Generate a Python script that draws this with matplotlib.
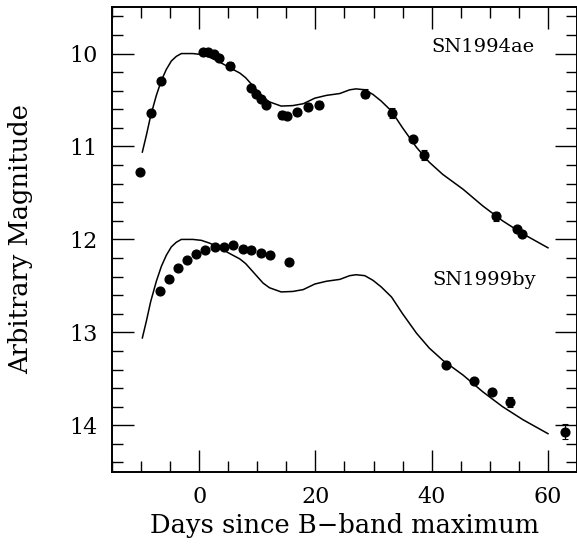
import numpy as np
import matplotlib
matplotlib.use("Agg")
import matplotlib.pyplot as plt
from matplotlib.ticker import MultipleLocator

plt.rcParams['font.family'] = ['DejaVu Serif']

# SN1994ae photometry
t_94 = [-10.1, -8.3, -6.6, 0.7, 1.6, 2.5, 3.4, 5.3, 8.9, 9.7, 10.6, 11.5,
        14.2, 15.1, 16.9, 18.8, 20.6, 28.6, 33.1, 36.8, 38.6, 51.0, 54.7, 55.5]
m_94 = [11.27, 10.64, 10.29, 9.98, 9.98, 10.01, 10.05, 10.13, 10.37, 10.44, 10.49, 10.55,
        10.66, 10.67, 10.63, 10.57, 10.55, 10.43, 10.64, 10.92, 11.09, 11.75, 11.89, 11.94]
e_94 = [0.02, 0.02, 0.02, 0.02, 0.02, 0.02, 0.02, 0.04, 0.02, 0.03, 0.02, 0.02,
        0.04, 0.02, 0.03, 0.04, 0.04, 0.05, 0.05, 0.03, 0.05, 0.05, 0.03, 0.03]

# SN1999by photometry
t_99 = [-6.8, -5.2, -3.6, -2.1, -0.55, 1.0, 2.8, 4.3, 5.9, 7.5, 9.0, 10.6, 12.2, 15.4,
        42.4, 47.2, 50.4, 53.4, 63.0]
m_99 = [12.56, 12.43, 12.31, 12.22, 12.16, 12.11, 12.08, 12.08, 12.06, 12.10, 12.11, 12.15, 12.17, 12.24,
        13.35, 13.52, 13.64, 13.75, 14.07]
e_99 = [0, 0, 0, 0, 0, 0, 0, 0, 0, 0, 0, 0, 0, 0,
        0.0, 0.0, 0.02, 0.05, 0.08]

# template light curve (SN1994ae), shifted by 2 mag for SN1999by
t_mod = [-9.77, -9.08, -8.34, -7.36, -6.50, -5.64, -4.78, -3.92, -3.06, -1.07, 0.38, 1.8,
         3.5, 5.2, 7.0, 8.0, 9.0, 10.0, 11.0, 12.1, 14.1, 16.1, 17.9, 19.9, 21.9, 24.2, 25.9, 27.0,
         28.5, 29.9, 31.3, 33.1, 35.0, 37.4, 39.6, 41.9, 45.4, 48.8, 52.2, 55.7, 60.0]
m_mod = [11.06, 10.88, 10.67, 10.45, 10.29, 10.17, 10.08, 10.03, 10.00, 10.00, 10.01, 10.04,
         10.09, 10.15, 10.21, 10.26, 10.33, 10.40, 10.47, 10.52, 10.565, 10.56, 10.54, 10.48,
         10.45, 10.43, 10.39, 10.38, 10.39, 10.44, 10.51, 10.62, 10.80, 11.01, 11.17, 11.30,
         11.46, 11.64, 11.80, 11.94, 12.09]
offset_99 = 2.0

fig = plt.figure(figsize=(5.77, 5.46), dpi=100)
ax = fig.add_axes([0.194, 0.136, 0.806, 0.851])

ax.plot(t_mod, m_mod, color='black', lw=1.1)
ax.plot(t_mod, np.array(m_mod) + offset_99, color='black', lw=1.1)
ax.errorbar(t_94, m_94, yerr=e_94, fmt='o', color='black', ms=6.3, capsize=2.2, elinewidth=0.8, capthick=0.8)
ax.errorbar(t_99, m_99, yerr=e_99, fmt='o', color='black', ms=6.3, capsize=2.2, elinewidth=0.8, capthick=0.8)

ax.text(57.7, 9.93, "SN1994ae", ha='right', va='center', fontsize=14)
ax.text(57.9, 12.44, "SN1999by", ha='right', va='center', fontsize=14)

ax.set_xlim(-15, 65)
ax.set_ylim(14.5, 9.5)
ax.xaxis.set_major_locator(MultipleLocator(20))
ax.xaxis.set_minor_locator(MultipleLocator(5))
ax.yaxis.set_major_locator(MultipleLocator(1))
ax.yaxis.set_minor_locator(MultipleLocator(0.2))
ax.tick_params(which='both', direction='in', top=True, right=True, width=1)
ax.tick_params(which='major', length=16, labelsize=16, pad=10)
ax.tick_params(which='minor', length=8)
for s in ax.spines.values():
    s.set_linewidth(1.4)

ax.set_xlabel("Days since B\u2212band maximum", fontsize=18.5)
ax.set_ylabel("Arbitrary Magnitude", fontsize=18.5)
ax.xaxis.set_label_coords(0.5, -0.088)
ax.yaxis.set_label_coords(-0.17, 0.5)

fig.savefig("out.png", dpi=100)
